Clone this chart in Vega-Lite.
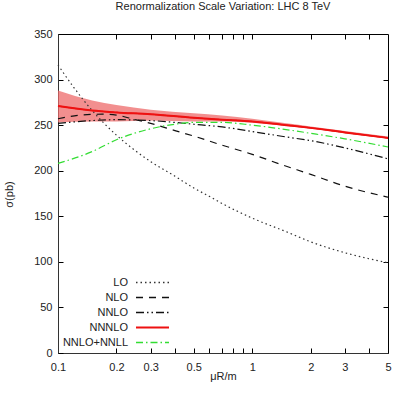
{
  "$schema": "https://vega.github.io/schema/vega-lite/v6.json",
  "width": 330,
  "height": 319,
  "autosize": "none",
  "padding": {"left": 58, "top": 34, "right": 6, "bottom": 43},
  "background": "white",
  "config": {
    "font": "Liberation Sans",
    "view": {"stroke": "#000", "strokeWidth": 1},
    "axis": {"labelFont": "Liberation Sans", "titleFont": "Liberation Sans", "labelColor": "#222", "titleColor": "#222", "labelFontSize": 11, "titleFontSize": 11, "titleFontWeight": "normal", "grid": false, "tickColor": "#000", "domainColor": "#333"}
  },
  "title": {"text": "Renormalization Scale Variation: LHC 8 TeV", "fontSize": 11, "fontWeight": "normal", "font": "Liberation Sans", "color": "#222", "offset": 16, "anchor": "middle"},
  "datasets": {
    "band": [
      {"mu": 0.1, "lo": 253, "hi": 288},
      {"mu": 0.15, "lo": 254, "hi": 277},
      {"mu": 0.2, "lo": 254, "hi": 272},
      {"mu": 0.3, "lo": 255, "hi": 267},
      {"mu": 0.5, "lo": 254, "hi": 263},
      {"mu": 0.7, "lo": 254, "hi": 260.5},
      {"mu": 1, "lo": 252.5, "hi": 257},
      {"mu": 1.5, "lo": 249, "hi": 252},
      {"mu": 2, "lo": 246, "hi": 248.5},
      {"mu": 3, "lo": 241, "hi": 243.5},
      {"mu": 5, "lo": 235, "hi": 237.5}
    ],
    "curves": [
      {"mu": 0.1, "series": "LO", "xsec": 316},
      {"mu": 0.12, "series": "LO", "xsec": 292},
      {"mu": 0.15, "series": "LO", "xsec": 266},
      {"mu": 0.2, "series": "LO", "xsec": 239},
      {"mu": 0.25, "series": "LO", "xsec": 222},
      {"mu": 0.3, "series": "LO", "xsec": 210},
      {"mu": 0.4, "series": "LO", "xsec": 194},
      {"mu": 0.5, "series": "LO", "xsec": 181},
      {"mu": 0.6, "series": "LO", "xsec": 172},
      {"mu": 0.7, "series": "LO", "xsec": 164},
      {"mu": 1, "series": "LO", "xsec": 148},
      {"mu": 1.5, "series": "LO", "xsec": 133},
      {"mu": 2, "series": "LO", "xsec": 122},
      {"mu": 3, "series": "LO", "xsec": 110},
      {"mu": 5, "series": "LO", "xsec": 99},
      {"mu": 0.1, "series": "NLO", "xsec": 257},
      {"mu": 0.13, "series": "NLO", "xsec": 261},
      {"mu": 0.17, "series": "NLO", "xsec": 262},
      {"mu": 0.2, "series": "NLO", "xsec": 261},
      {"mu": 0.25, "series": "NLO", "xsec": 256},
      {"mu": 0.3, "series": "NLO", "xsec": 252},
      {"mu": 0.4, "series": "NLO", "xsec": 244},
      {"mu": 0.5, "series": "NLO", "xsec": 238},
      {"mu": 0.7, "series": "NLO", "xsec": 228},
      {"mu": 1, "series": "NLO", "xsec": 218},
      {"mu": 1.4, "series": "NLO", "xsec": 207},
      {"mu": 2, "series": "NLO", "xsec": 196},
      {"mu": 3, "series": "NLO", "xsec": 183},
      {"mu": 5, "series": "NLO", "xsec": 171},
      {"mu": 0.1, "series": "NNLO", "xsec": 252},
      {"mu": 0.15, "series": "NNLO", "xsec": 255},
      {"mu": 0.2, "series": "NNLO", "xsec": 256},
      {"mu": 0.3, "series": "NNLO", "xsec": 255},
      {"mu": 0.5, "series": "NNLO", "xsec": 251},
      {"mu": 0.7, "series": "NNLO", "xsec": 248},
      {"mu": 1, "series": "NNLO", "xsec": 243},
      {"mu": 1.5, "series": "NNLO", "xsec": 237},
      {"mu": 2, "series": "NNLO", "xsec": 233},
      {"mu": 3, "series": "NNLO", "xsec": 225},
      {"mu": 5, "series": "NNLO", "xsec": 213},
      {"mu": 0.1, "series": "NNNLO", "xsec": 271},
      {"mu": 0.15, "series": "NNNLO", "xsec": 266},
      {"mu": 0.2, "series": "NNNLO", "xsec": 264},
      {"mu": 0.3, "series": "NNNLO", "xsec": 262},
      {"mu": 0.5, "series": "NNNLO", "xsec": 258},
      {"mu": 0.7, "series": "NNNLO", "xsec": 256},
      {"mu": 1, "series": "NNNLO", "xsec": 254},
      {"mu": 1.5, "series": "NNNLO", "xsec": 250},
      {"mu": 2, "series": "NNNLO", "xsec": 247},
      {"mu": 3, "series": "NNNLO", "xsec": 242},
      {"mu": 5, "series": "NNNLO", "xsec": 236},
      {"mu": 0.1, "series": "NNLO+NNLL", "xsec": 208},
      {"mu": 0.15, "series": "NNLO+NNLL", "xsec": 221},
      {"mu": 0.2, "series": "NNLO+NNLL", "xsec": 234},
      {"mu": 0.3, "series": "NNLO+NNLL", "xsec": 246},
      {"mu": 0.4, "series": "NNLO+NNLL", "xsec": 251},
      {"mu": 0.5, "series": "NNLO+NNLL", "xsec": 253},
      {"mu": 0.7, "series": "NNLO+NNLL", "xsec": 253},
      {"mu": 1, "series": "NNLO+NNLL", "xsec": 250},
      {"mu": 1.4, "series": "NNLO+NNLL", "xsec": 246},
      {"mu": 2, "series": "NNLO+NNLL", "xsec": 241},
      {"mu": 3, "series": "NNLO+NNLL", "xsec": 235},
      {"mu": 5, "series": "NNLO+NNLL", "xsec": 226}
    ]
  },
  "resolve": {"axis": {"x": "independent", "y": "independent"}},
  "layer": [
    {
      "data": {"name": "band"},
      "mark": {"type": "area", "color": "#ee6a6a", "opacity": 0.75, "interpolate": "monotone"},
      "encoding": {
        "x": {"field": "mu", "type": "quantitative", "scale": {"type": "log", "domain": [0.1, 5], "nice": false},
          "axis": {"orient": "top", "values": [0.2, 0.3, 0.4, 0.5, 0.6, 0.7, 0.8, 0.9, 1, 2, 3, 4], "labels": false, "title": null, "tickSize": -5, "domain": false}},
        "y": {"field": "hi", "type": "quantitative", "scale": {"domain": [0, 350], "nice": false},
          "axis": {"orient": "right", "values": [50, 100, 150, 200, 250, 300], "labels": false, "title": null, "tickSize": -5, "domain": false}},
        "y2": {"field": "lo"}
      }
    },
    {
      "data": {"name": "curves"},
      "mark": {"type": "line", "interpolate": "monotone", "strokeWidth": 1.2},
      "encoding": {
        "x": {"field": "mu", "type": "quantitative", "scale": {"type": "log", "domain": [0.1, 5], "nice": false},
          "axis": {"title": "μR/m", "values": [0.1, 0.2, 0.3, 0.4, 0.5, 0.6, 0.7, 0.8, 0.9, 1, 2, 3, 4, 5], "format": "~g",
            "labelExpr": "indexof([0.1, 0.2, 0.3, 0.5, 1, 2, 3, 5], datum.value) >= 0 ? datum.label : ''",
            "tickSize": -5, "labelPadding": 13, "titlePadding": -2, "labelFlush": false}},
        "y": {"field": "xsec", "type": "quantitative", "scale": {"domain": [0, 350], "nice": false},
          "axis": {"title": "σ(pb)", "values": [0, 50, 100, 150, 200, 250, 300, 350], "tickSize": -5, "labelPadding": 11, "titleX": -44, "titleY": 160, "labelFlush": false}},
        "color": {"field": "series", "type": "nominal",
          "scale": {"domain": ["LO", "NLO", "NNLO", "NNNLO", "NNLO+NNLL"], "range": ["#333333", "#111111", "#111111", "#ee1111", "#33dd33"]},
          "legend": {"orient": "none", "legendX": 89, "legendY": 243, "title": null, "symbolType": "M-3,0H3", "symbolSize": 121, "symbolStrokeWidth": 1.3, "labelAlign": "right", "labelOffset": -30, "labelFontSize": 11, "labelColor": "#222", "rowPadding": 3, "padding": 0,
            "encode": {"symbols": {"update": {"strokeWidth": {"signal": "datum.value === 'NNNLO' ? 2 : 1.3"}}}}}},
        "strokeDash": {"field": "series", "type": "nominal",
          "scale": {"domain": ["LO", "NLO", "NNLO", "NNNLO", "NNLO+NNLL"], "range": [[1.5, 3], [7, 6], [8, 3, 1.5, 3, 1.5, 3], [1, 0], [7, 3, 1.5, 3]]},
          "legend": null}
      }
    },
    {
      "data": {"name": "curves"},
      "transform": [{"filter": "datum.series == 'NNNLO'"}],
      "mark": {"type": "line", "interpolate": "monotone", "strokeWidth": 2, "color": "#ee1111"},
      "encoding": {
        "x": {"field": "mu", "type": "quantitative", "axis": null},
        "y": {"field": "xsec", "type": "quantitative", "axis": null}
      }
    }
  ]
}
